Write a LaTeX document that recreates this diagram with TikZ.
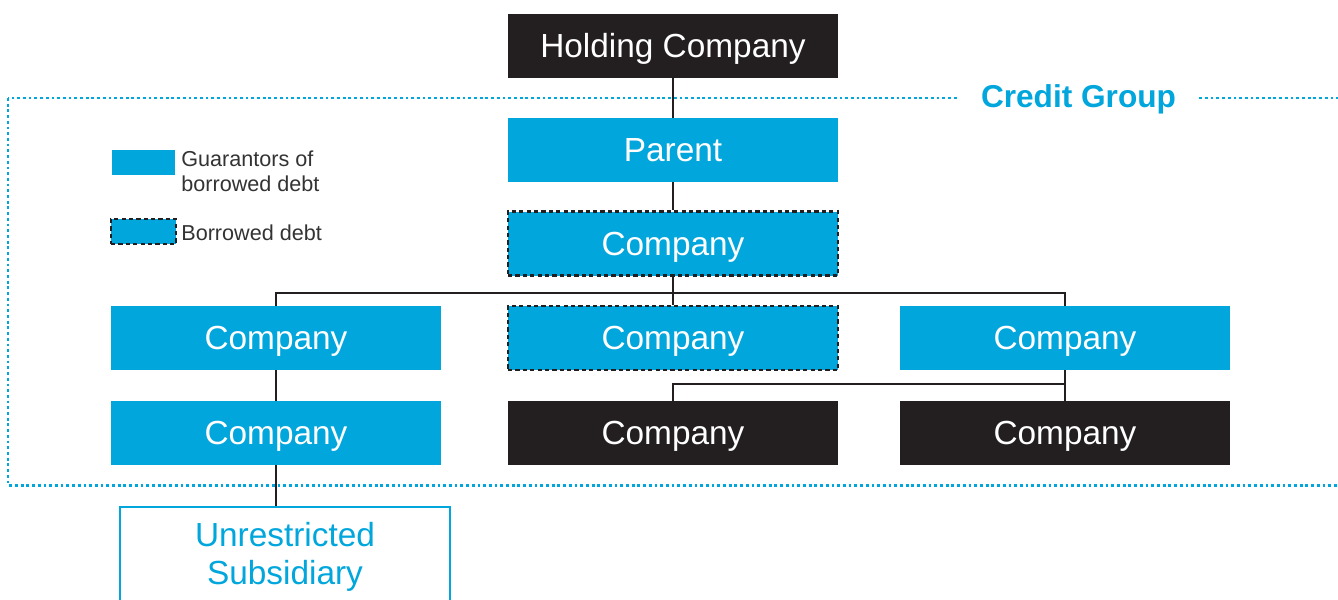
\documentclass[tikz,border=0pt]{standalone}
\usepackage{fontspec}
\setmainfont{Liberation Sans}
\definecolor{cgblue}{HTML}{00A6DC}
\definecolor{cgblack}{HTML}{231F20}
\definecolor{cggray}{HTML}{333333}
\begin{document}
\begin{tikzpicture}[x=0.02cm,y=-0.02cm,
  box/.style={minimum width=6.6cm,minimum height=1.28cm,inner sep=0pt,text height=13.6pt,text depth=0pt,text=white,font=\fontsize{19}{22}\selectfont},
  guar/.style={box,fill=cgblue},
  borrow/.style={guar,draw=cgblack,line width=1.4pt,dash pattern=on 2.4pt off 1.8pt},
  other/.style={box,fill=cgblack},
  link/.style={draw=cgblack,line width=1.5pt},
  group/.style={cgblue,line width=1.7pt,dash pattern=on 1.6pt off 1.65pt},
  keytext/.style={anchor=west,inner sep=0pt,align=left,text=cggray,font=\fontsize{12.3}{14.2}\selectfont}]
  \useasboundingbox (0,0) rectangle (1338,599);
  \clip (0,0) rectangle (1338,599);
  % credit group frame
  \draw[group] (8,98) rectangle (1400,485);
  \node[fill=white,text=cgblue,inner xsep=0.45cm,inner ysep=4pt,text height=13pt,text depth=0pt,font=\bfseries\fontsize{18}{21}\selectfont] (cg) at (1078.5,96) {Credit Group};
  % legend
  \node[fill=cgblue,minimum width=1.26cm,minimum height=0.5cm,inner sep=0pt] (keyG) at (143.5,162.5) {};
  \node[keytext] (keyGt) at (181,171) {Guarantors of\\borrowed debt};
  \node[borrow,minimum width=1.3cm,minimum height=0.5cm] (keyB) at (143.5,231.5) {};
  \node[keytext] (keyBt) at (181,233) {Borrowed debt};
  % companies
  \node[other] (hold) at (673,46) {Holding Company};
  \node[guar] (parent) at (673,150) {Parent};
  \node[borrow] (comp) at (673,243.5) {Company};
  \node[guar] (compL) at (276,338) {Company};
  \node[borrow] (compM) at (673,338) {Company};
  \node[guar] (compR) at (1065,338) {Company};
  \node[guar] (compLL) at (276,433) {Company};
  \node[other] (compMM) at (673,433) {Company};
  \node[other] (compRR) at (1065,433) {Company};
  \node[draw=cgblue,line width=0.8pt,minimum width=6.6cm,minimum height=2cm,inner sep=0pt,align=center,text=cgblue,font=\fontsize{19}{21.6}\selectfont] (unres) at (285,557) {Unrestricted\\Subsidiary};
  \coordinate (split) at (673,293);
  \coordinate (rsplit) at (1065,384);
  \draw[link] (hold) -- (parent);
  \draw[link] (parent) -- (comp);
  \draw[link] (comp) -- (compM);
  \draw[link] (compL.north) |- (split) -| (compR.north);
  \draw[link] (compL) -- (compLL);
  \draw[link] (compLL.south) -- (compLL.south |- unres.north);
  \draw[link] (compR) -- (compRR);
  \draw[link] (compMM.north) |- (rsplit);
\end{tikzpicture}
\end{document}
